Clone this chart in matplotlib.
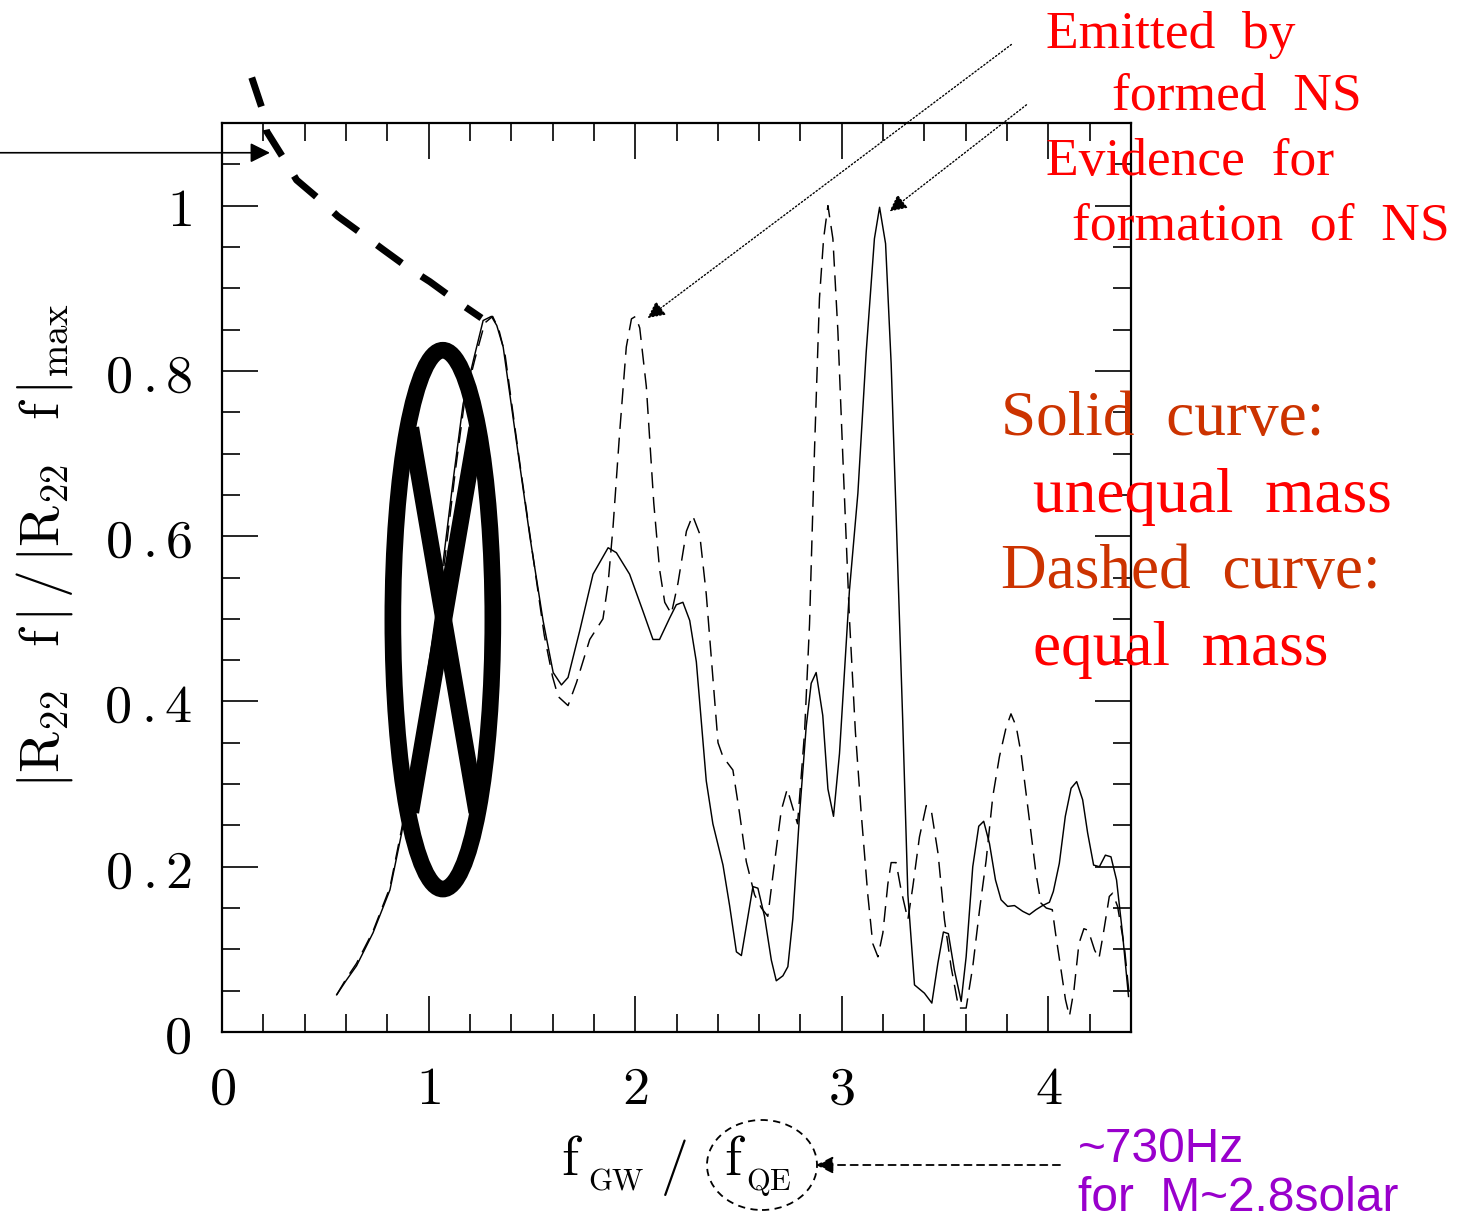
import matplotlib
matplotlib.use("Agg")
import matplotlib.pyplot as plt
from matplotlib.patches import Ellipse
from matplotlib.ticker import MultipleLocator

plt.rcParams['mathtext.fontset'] = 'cm'

# ---------------- data ----------------
solid_x = [0.555, 0.600, 0.651, 0.731, 0.813, 0.869, 0.95, 1.01, 1.069, 1.12, 1.167, 1.216,
           1.264, 1.304, 1.33, 1.361, 1.425, 1.490, 1.554, 1.603, 1.643, 1.675, 1.732, 1.796,
           1.869, 1.909, 1.973, 2.038, 2.086, 2.118, 2.167, 2.199, 2.231, 2.264, 2.296, 2.344,
           2.376, 2.425, 2.457, 2.490, 2.514, 2.546, 2.570, 2.594, 2.626, 2.659, 2.683, 2.715,
           2.739, 2.763, 2.796, 2.828, 2.852, 2.876, 2.908, 2.933, 2.960, 2.989, 3.037, 3.078,
           3.118, 3.158, 3.183, 3.212, 3.239, 3.263, 3.295, 3.320, 3.352, 3.400, 3.436, 3.465,
           3.492, 3.516, 3.545, 3.578, 3.602, 3.634, 3.663, 3.687, 3.715, 3.744, 3.771, 3.803,
           3.836, 3.876, 3.908, 3.940, 3.972, 4.005, 4.024, 4.053, 4.082, 4.110, 4.137, 4.166,
           4.190, 4.219, 4.247, 4.276, 4.303, 4.330, 4.359, 4.388]
solid_y = [0.045, 0.062, 0.080, 0.120, 0.172, 0.240, 0.36, 0.46, 0.566, 0.67, 0.760, 0.812,
           0.861, 0.866, 0.855, 0.829, 0.715, 0.600, 0.498, 0.435, 0.420, 0.429, 0.486, 0.554,
           0.586, 0.580, 0.554, 0.509, 0.475, 0.475, 0.501, 0.517, 0.520, 0.498, 0.448, 0.304,
           0.252, 0.202, 0.153, 0.097, 0.0925, 0.140, 0.176, 0.174, 0.140, 0.087, 0.062, 0.068,
           0.079, 0.137, 0.265, 0.370, 0.422, 0.435, 0.383, 0.294, 0.261, 0.337, 0.534, 0.652,
           0.822, 0.960, 0.998, 0.954, 0.809, 0.626, 0.377, 0.166, 0.057, 0.047, 0.035, 0.083,
           0.121, 0.119, 0.075, 0.037, 0.091, 0.200, 0.249, 0.255, 0.228, 0.184, 0.160, 0.152,
           0.153, 0.146, 0.142, 0.148, 0.153, 0.157, 0.170, 0.204, 0.261, 0.295, 0.303, 0.281,
           0.241, 0.202, 0.200, 0.214, 0.212, 0.184, 0.119, 0.043]

dashed_x = [0.555, 0.600, 0.651, 0.731, 0.813, 0.869, 0.95, 1.02, 1.08, 1.13, 1.175, 1.225,
            1.272, 1.31, 1.34, 1.37, 1.435, 1.50, 1.56, 1.60, 1.627, 1.675, 1.716, 1.780,
            1.844, 1.869, 1.893, 1.925, 1.957, 1.982, 2.002, 2.022, 2.054, 2.090, 2.118, 2.143,
            2.175, 2.207, 2.248, 2.278, 2.312, 2.344, 2.376, 2.401, 2.425, 2.473, 2.505, 2.538,
            2.578, 2.611, 2.642, 2.675, 2.707, 2.736, 2.763, 2.786, 2.820, 2.844, 2.868, 2.892,
            2.912, 2.933, 2.957, 2.981, 3.008, 3.037, 3.066, 3.094, 3.126, 3.150, 3.175, 3.199,
            3.223, 3.239, 3.263, 3.287, 3.320, 3.344, 3.376, 3.409, 3.434, 3.466, 3.497, 3.529,
            3.566, 3.602, 3.634, 3.667, 3.699, 3.731, 3.763, 3.795, 3.819, 3.844, 3.868, 3.892,
            3.916, 3.940, 3.964, 3.990, 4.019, 4.035, 4.059, 4.083, 4.102, 4.124, 4.148, 4.172,
            4.193, 4.224, 4.245, 4.266, 4.295, 4.311, 4.335, 4.368, 4.392]
dashed_y = [0.045, 0.064, 0.083, 0.122, 0.175, 0.245, 0.36, 0.47, 0.575, 0.68, 0.765, 0.815,
            0.858, 0.866, 0.85, 0.82, 0.70, 0.585, 0.48, 0.43, 0.406, 0.395, 0.423, 0.475,
            0.500, 0.543, 0.612, 0.726, 0.829, 0.863, 0.866, 0.852, 0.781, 0.640, 0.560, 0.520,
            0.506, 0.543, 0.606, 0.625, 0.603, 0.530, 0.429, 0.350, 0.333, 0.317, 0.265, 0.206,
            0.166, 0.150, 0.140, 0.206, 0.268, 0.294, 0.271, 0.252, 0.363, 0.494, 0.704, 0.888,
            0.960, 1.000, 0.960, 0.849, 0.678, 0.501, 0.363, 0.265, 0.166, 0.107, 0.091, 0.120,
            0.179, 0.205, 0.205, 0.172, 0.136, 0.176, 0.236, 0.274, 0.267, 0.216, 0.136, 0.079,
            0.029, 0.029, 0.079, 0.148, 0.208, 0.285, 0.333, 0.368, 0.385, 0.370, 0.337, 0.289,
            0.241, 0.192, 0.156, 0.150, 0.148, 0.119, 0.079, 0.039, 0.019, 0.051, 0.107, 0.125,
            0.123, 0.099, 0.089, 0.119, 0.164, 0.168, 0.152, 0.103, 0.043]

# thick dashed guide curve (upper left)
guide_x = [0.144, 0.192, 0.216, 0.296, 0.361, 0.474, 0.561, 0.682, 0.779, 0.900, 1.006, 1.127, 1.256]
guide_y = [1.155, 1.119, 1.090, 1.058, 1.031, 1.007, 0.987, 0.965, 0.947, 0.925, 0.908, 0.886, 0.864]

xtick_labels = ['0', '1', '2', '3', '4']
ytick_labels = ['0', '0.2', '0.4', '0.6', '0.8', '1']

RED = '#ff0000'
ORANGE = '#cc3300'
PURPLE = '#9900cc'

W, H = 1458, 1222
fig = plt.figure(figsize=(W / 100, H / 100), dpi=100)
ax = fig.add_axes([222 / W, 190 / H, 909 / W, 909 / H])

ax.plot(solid_x, solid_y, color='k', lw=1.05)
ax.plot(dashed_x, dashed_y, color='k', lw=1.05, ls=(0, (11, 6)))

ax.set_xlim(0, 4.4)
ax.set_ylim(0, 1.1)


def cm_label(s):
    return r'$\mathrm{' + s.replace('.', r'\hspace{0.22}.\hspace{-0.04}') + '}$'


ax.xaxis.set_minor_locator(MultipleLocator(0.2))
ax.yaxis.set_minor_locator(MultipleLocator(0.05))
ax.set_xticks(range(len(xtick_labels)))
ax.set_xticklabels([cm_label(s) for s in xtick_labels], fontsize=39)
ax.set_yticks([0.2 * i for i in range(len(ytick_labels))])
ax.set_yticklabels([cm_label(s) for s in ytick_labels], fontsize=39)
ax.tick_params(which='both', direction='in', top=True, right=True, width=1.2)
ax.tick_params(which='major', length=26, pad=22)
ax.tick_params(which='minor', length=13)
for s in ax.spines.values():
    s.set_linewidth(1.6)

# thick dashed guide curve
ax.plot(guide_x, guide_y, color='k', lw=5, ls=(0, (4.4, 3.4)), clip_on=False,
        dash_capstyle='butt')

# thick ellipse with cross
ax.add_patch(Ellipse((1.069, 0.499), 0.484, 0.652, fill=False, lw=12, ec='k'))
ax.plot([0.914, 1.233], [0.731, 0.266], color='k', lw=12, solid_capstyle='butt')
ax.plot([1.233, 0.914], [0.731, 0.266], color='k', lw=12, solid_capstyle='butt')

# arrows
ax.annotate('', xy=(0.232, 1.064), xytext=(-1.1, 1.064), annotation_clip=False,
            arrowprops=dict(arrowstyle='-|>', lw=1.2, color='k', mutation_scale=30,
                            shrinkA=0, shrinkB=0))
ax.annotate('', xy=(2.060, 0.864), xytext=(3.821, 1.195), annotation_clip=False,
            arrowprops=dict(arrowstyle='-|>', lw=1.0, ls=':', color='k', mutation_scale=26,
                            shrinkA=0, shrinkB=0))
ax.annotate('', xy=(3.231, 0.993), xytext=(3.894, 1.122), annotation_clip=False,
            arrowprops=dict(arrowstyle='-|>', lw=1.0, ls=':', color='k', mutation_scale=26,
                            shrinkA=0, shrinkB=0))

# y label
fig.text(45 / W, 1 - 545 / H,
         r'$|\mathrm{R}_{22}\;\;\;\mathrm{f}\,|\,/\,|\mathrm{R}_{22}\;\;\;\mathrm{f}\,|_{\mathrm{max}}$',
         rotation=90, ha='center', va='center', fontsize=40)


# x label assembled from pieces
def ptext(x, y, s, size):
    fig.text(x / W, 1 - y / H, s, fontsize=size, ha='left', va='baseline')


ptext(561, 1175, r'$\mathrm{f}$', 40)
ptext(588, 1190, r'$\mathrm{GW}$', 22)
ptext(660, 1182, r'$/$', 40)
ptext(724, 1175, r'$\mathrm{f}$', 40)
ptext(746, 1190, r'$\mathrm{QE}$', 22)

fig.patches.append(Ellipse((762 / W, 1 - 1165 / H), 110 / W, 90 / H, transform=fig.transFigure,
                           fill=False, ls=(0, (4, 3)), lw=1.3, ec='k'))
fig.patches[-1].set_figure(fig)
ax.annotate('', xy=(816 / W, 1 - 1165 / H), xytext=(1060 / W, 1 - 1165 / H),
            xycoords='figure fraction', textcoords='figure fraction', annotation_clip=False,
            arrowprops=dict(arrowstyle='-|>', lw=1.3, ls=(0, (4, 3)), color='k',
                            mutation_scale=26, shrinkA=0, shrinkB=0))

# annotation texts
serif = 'Liberation Serif'


def ftext(x, y, s, color, size, family=serif):
    fig.text(x / W, 1 - y / H, s, color=color, fontsize=size, family=family,
             ha='left', va='baseline')


ftext(1046, 48, 'Emitted  by', RED, 38.5)
ftext(1112, 110, 'formed  NS', RED, 38.5)
ftext(1046, 175, 'Evidence  for', RED, 38.5)
ftext(1072, 240, 'formation  of  NS', RED, 38.5)
ftext(1001, 435, 'Solid  curve:', ORANGE, 45.5)
ftext(1033, 512, 'unequal  mass', RED, 45.5)
ftext(1001, 588, 'Dashed  curve:', ORANGE, 45.5)
ftext(1033, 665, 'equal  mass', RED, 45.5)
ftext(1078, 1162, '~730Hz', PURPLE, 34.5, 'Liberation Sans')
ftext(1078, 1211, 'for  M~2.8solar', PURPLE, 34.5, 'Liberation Sans')

fig.savefig('out.png', dpi=100)
